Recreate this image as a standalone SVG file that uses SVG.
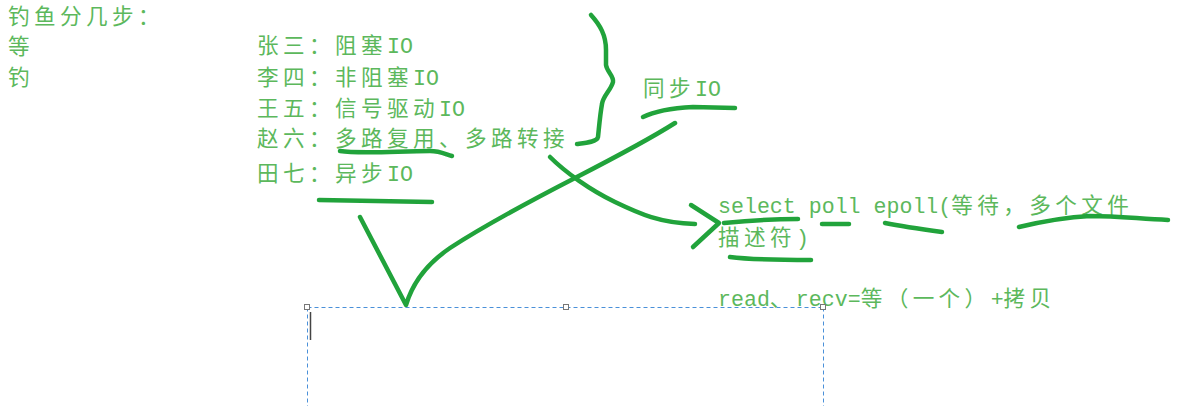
<svg xmlns="http://www.w3.org/2000/svg" width="1203" height="406" viewBox="0 0 1203 406">
<style>
.t{font-family:"Liberation Mono","Noto Sans CJK SC",monospace;font-size:21.6px;fill:#5cb85c}
.w{letter-spacing:4.4px}
.s{fill:none;stroke:#21a33b;stroke-width:4.5;stroke-linecap:round;stroke-linejoin:round}
.d{fill:none;stroke:#4a90d9;stroke-width:1;stroke-dasharray:4 3}
.h{fill:#fff;stroke:#777;stroke-width:1}
</style>
<rect width="1203" height="406" fill="#fff"/>
<g id="texts" class="t">
<text id="title" x="8" y="24"><tspan class="w">钓鱼分几步：</tspan></text>
<text id="deng" x="8" y="54"><tspan class="w">等</tspan></text>
<text id="diao" x="8" y="85"><tspan class="w">钓</tspan></text>
<text id="zhangsan" x="257" y="53"><tspan class="w">张三：阻塞</tspan>IO</text>
<text id="lisi" x="257" y="85"><tspan class="w">李四：非阻塞</tspan>IO</text>
<text id="wangwu" x="257" y="116"><tspan class="w">王五：信号驱动</tspan>IO</text>
<text id="zhaoliu" x="257" y="146"><tspan class="w">赵六：多路复用、多路转接</tspan></text>
<text id="tianqi" x="257" y="181"><tspan class="w">田七：异步</tspan>IO</text>
<text id="sync" x="643" y="96"><tspan class="w">同步</tspan>IO</text>
<text id="select1" x="718" y="213">select poll epoll(<tspan class="w">等待，多个文件</tspan></text>
<text id="select2" x="718" y="245"><tspan class="w">描述符</tspan>)</text>
<text id="read" x="718" y="306">read<tspan class="w">、</tspan>recv=<tspan class="w">等（一个）</tspan>+<tspan class="w">拷贝</tspan></text>
</g>
<g id="strokes">
<path class="s" d="M591,15 C600,25 606,35 606,50 L606,65 C607,72 614,76 613,82 C611,90 603,96 602,104 C600,115 599,128 598,137 C597,142 585,143 577,144"/>
<path class="s" d="M643,117 C655,111 675,108 693,107 L735,108"/>
<path class="s" d="M360,217 L406,305 C412,285 425,265 450,248 C490,222 540,196 575,178 C610,160 645,142 675,123"/>
<path class="s" d="M550,157 C565,172 590,190 615,202 C640,214 660,223 695,224"/>
<path class="s" d="M691,205 L719,223 L693,247"/>
<path class="s" d="M340,151 C360,154 400,151 430,151 C440,151 445,154 452,156"/>
<path class="s" d="M319,200 L432,202"/>
<path class="s" d="M724,223 C745,221 770,219 798,219"/>
<path class="s" d="M822,224 L849,224"/>
<path class="s" d="M885,223 C900,226 920,229 942,232"/>
<path class="s" d="M1019,227 C1040,222 1070,217 1090,216 C1120,216 1140,219 1168,220"/>
<path class="s" d="M730,257 C745,259 780,260 811,260"/>
</g>
<g id="selection">
<path class="d" d="M307.5,307.5 H823.5 M307.5,307.5 V406 M823.5,307.5 V406"/>
<rect class="h" x="304.5" y="304.5" width="5" height="5"/>
<rect class="h" x="563.5" y="304.5" width="5" height="5"/>
<rect class="h" x="820.5" y="304.5" width="5" height="5"/>
<line x1="310.5" y1="312" x2="310.5" y2="340" stroke="#444" stroke-width="1.5"/>
</g>
</svg>
